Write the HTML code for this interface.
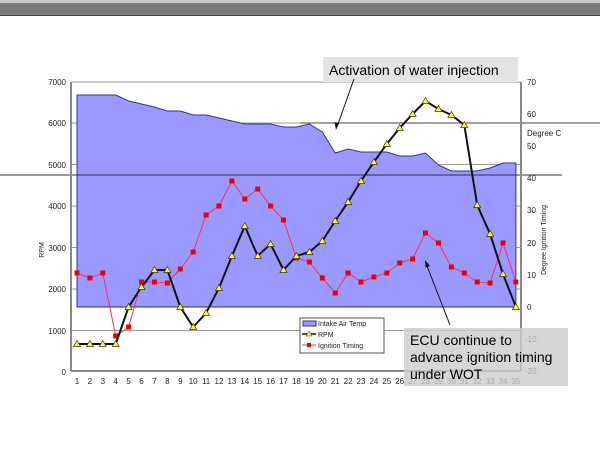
<!DOCTYPE html>
<html><head><style>
html,body{margin:0;padding:0;background:#fff;width:600px;height:450px;overflow:hidden}
svg text{font-family:"Liberation Sans",sans-serif}
</style></head><body>
<svg width="600" height="450" xmlns="http://www.w3.org/2000/svg">
<rect x="0" y="0" width="600" height="3" fill="#c8c8c8"/>
<rect x="0" y="3" width="600" height="13" fill="#7a7a7a"/>
<rect x="0" y="15" width="600" height="1" fill="#444"/>
<g stroke="#999" stroke-width="1">
<line x1="71" y1="82" x2="521" y2="82"/>
<line x1="71" y1="123" x2="521" y2="123"/>
<line x1="71" y1="164.5" x2="521" y2="164.5"/>
<line x1="71" y1="206" x2="521" y2="206"/>
<line x1="71" y1="247.5" x2="521" y2="247.5"/>
<line x1="71" y1="289" x2="521" y2="289"/>
<line x1="71" y1="330.5" x2="521" y2="330.5"/>
</g>
<polygon fill="#9999ff" stroke="#333399" stroke-width="1" points="77,307 77,95 89.9,95 102.8,95 115.7,95 128.6,101 141.5,104 154.5,107 167.4,111 180.3,111 193.2,115 206.1,115 219,118 231.9,121 244.8,124 257.7,124 270.6,124 283.5,127 296.4,127 309.4,124 322.3,132 335.2,153 348.1,149 361,152 373.9,152 386.8,152 399.7,156 412.6,156 425.5,153 438.4,165 451.4,171 464.3,171 477.2,171 490.1,168 503,163 515.9,163 515.9,307"/>
<line x1="77" y1="307" x2="516" y2="307" stroke="#333" stroke-width="1"/>
<line x1="0" y1="175" x2="562" y2="175" stroke="#333" stroke-width="1"/>
<line x1="300" y1="123" x2="600" y2="123" stroke="#444" stroke-width="1"/>
<line x1="71" y1="82" x2="71" y2="371" stroke="#888" stroke-width="2"/>
<line x1="521" y1="82" x2="521" y2="371" stroke="#888" stroke-width="2"/>
<line x1="71" y1="371" x2="521" y2="371" stroke="#888" stroke-width="2"/>
<g font-size="8" fill="#222" text-anchor="end">
<text x="66" y="85">7000</text><text x="66" y="126">6000</text><text x="66" y="168">5000</text><text x="66" y="209">4000</text><text x="66" y="251">3000</text><text x="66" y="292">2000</text><text x="66" y="334">1000</text><text x="66" y="375">0</text>
</g>
<g font-size="8" fill="#222">
<text x="527" y="85">70</text><text x="527" y="117">60</text><text x="527" y="149">50</text><text x="527" y="181">40</text><text x="527" y="213">30</text><text x="527" y="246">20</text><text x="527" y="278">10</text><text x="527" y="310">0</text><text x="525" y="342">-10</text><text x="525" y="374">-20</text>
<text x="527" y="136">Degree C</text>
</g>
<text font-size="7" fill="#222" transform="translate(44,250) rotate(-90)" text-anchor="middle">RPM</text>
<text font-size="7" fill="#222" transform="translate(546,240) rotate(-90)" text-anchor="middle">Degree Ignition Timing</text>
<g font-size="8" fill="#222" text-anchor="middle">
<text x="77" y="384">1</text><text x="89.9" y="384">2</text><text x="102.8" y="384">3</text><text x="115.7" y="384">4</text><text x="128.6" y="384">5</text><text x="141.5" y="384">6</text><text x="154.5" y="384">7</text><text x="167.4" y="384">8</text><text x="180.3" y="384">9</text><text x="193.2" y="384">10</text><text x="206.1" y="384">11</text><text x="219" y="384">12</text><text x="231.9" y="384">13</text><text x="244.8" y="384">14</text><text x="257.7" y="384">15</text><text x="270.6" y="384">16</text><text x="283.5" y="384">17</text><text x="296.4" y="384">18</text><text x="309.4" y="384">19</text><text x="322.3" y="384">20</text><text x="335.2" y="384">21</text><text x="348.1" y="384">22</text><text x="361" y="384">23</text><text x="373.9" y="384">24</text><text x="386.8" y="384">25</text><text x="399.7" y="384">26</text><text x="412.6" y="384">27</text><text x="425.5" y="384">28</text><text x="438.4" y="384">29</text><text x="451.4" y="384">30</text><text x="464.3" y="384">31</text><text x="477.2" y="384">32</text><text x="490.1" y="384">33</text><text x="503" y="384">34</text><text x="515.9" y="384">35</text>
</g>
<polyline fill="none" stroke="#ff3355" stroke-width="1" points="77,273 89.9,278 102.8,273 115.7,336 128.6,327 141.5,282 154.5,282 167.4,283 180.3,269 193.2,252 206.1,215 219,206 231.9,181 244.8,199 257.7,189 270.6,206 283.5,220 296.4,258 309.4,262 322.3,278 335.2,293 348.1,273 361,282 373.9,277 386.8,273 399.7,263 412.6,259 425.5,233 438.4,243 451.4,267 464.3,273 477.2,282 490.1,283 503,243 515.9,282"/>
<g fill="#ee0000">
<rect x="74.5" y="270.5" width="5" height="5"/><rect x="87.4" y="275.5" width="5" height="5"/><rect x="100.3" y="270.5" width="5" height="5"/><rect x="113.2" y="333.5" width="5" height="5"/><rect x="126.1" y="324.5" width="5" height="5"/><rect x="139" y="279.5" width="5" height="5"/><rect x="152" y="279.5" width="5" height="5"/><rect x="164.9" y="280.5" width="5" height="5"/><rect x="177.8" y="266.5" width="5" height="5"/><rect x="190.7" y="249.5" width="5" height="5"/><rect x="203.6" y="212.5" width="5" height="5"/><rect x="216.5" y="203.5" width="5" height="5"/><rect x="229.4" y="178.5" width="5" height="5"/><rect x="242.3" y="196.5" width="5" height="5"/><rect x="255.2" y="186.5" width="5" height="5"/><rect x="268.1" y="203.5" width="5" height="5"/><rect x="281" y="217.5" width="5" height="5"/><rect x="293.9" y="255.5" width="5" height="5"/><rect x="306.9" y="259.5" width="5" height="5"/><rect x="319.8" y="275.5" width="5" height="5"/><rect x="332.7" y="290.5" width="5" height="5"/><rect x="345.6" y="270.5" width="5" height="5"/><rect x="358.5" y="279.5" width="5" height="5"/><rect x="371.4" y="274.5" width="5" height="5"/><rect x="384.3" y="270.5" width="5" height="5"/><rect x="397.2" y="260.5" width="5" height="5"/><rect x="410.1" y="256.5" width="5" height="5"/><rect x="423" y="230.5" width="5" height="5"/><rect x="435.9" y="240.5" width="5" height="5"/><rect x="448.9" y="264.5" width="5" height="5"/><rect x="461.8" y="270.5" width="5" height="5"/><rect x="474.7" y="279.5" width="5" height="5"/><rect x="487.6" y="280.5" width="5" height="5"/><rect x="500.5" y="240.5" width="5" height="5"/><rect x="513.4" y="279.5" width="5" height="5"/>
</g>
<polyline fill="none" stroke="#111" stroke-width="2" points="77,344 89.9,344 102.8,344 115.7,344 128.6,307 141.5,287 154.5,270 167.4,270 180.3,307 193.2,327 206.1,313 219,288 231.9,256 244.8,226 257.7,256 270.6,244 283.5,270 296.4,256 309.4,252 322.3,241 335.2,221 348.1,202 361,181 373.9,162 386.8,144 399.7,128 412.6,114 425.5,101 438.4,109 451.4,115 464.3,125 477.2,205 490.1,234 503,274 515.9,307"/>
<g fill="#ffff00" stroke="#333" stroke-width="0.7">
<path d="M77,340.5l3.5,6h-7z"/><path d="M89.9,340.5l3.5,6h-7z"/><path d="M102.8,340.5l3.5,6h-7z"/><path d="M115.7,340.5l3.5,6h-7z"/><path d="M128.6,303.5l3.5,6h-7z"/><path d="M141.5,283.5l3.5,6h-7z"/><path d="M154.5,266.5l3.5,6h-7z"/><path d="M167.4,266.5l3.5,6h-7z"/><path d="M180.3,303.5l3.5,6h-7z"/><path d="M193.2,323.5l3.5,6h-7z"/><path d="M206.1,309.5l3.5,6h-7z"/><path d="M219,284.5l3.5,6h-7z"/><path d="M231.9,252.5l3.5,6h-7z"/><path d="M244.8,222.5l3.5,6h-7z"/><path d="M257.7,252.5l3.5,6h-7z"/><path d="M270.6,240.5l3.5,6h-7z"/><path d="M283.5,266.5l3.5,6h-7z"/><path d="M296.4,252.5l3.5,6h-7z"/><path d="M309.4,248.5l3.5,6h-7z"/><path d="M322.3,237.5l3.5,6h-7z"/><path d="M335.2,217.5l3.5,6h-7z"/><path d="M348.1,198.5l3.5,6h-7z"/><path d="M361,177.5l3.5,6h-7z"/><path d="M373.9,158.5l3.5,6h-7z"/><path d="M386.8,140.5l3.5,6h-7z"/><path d="M399.7,124.5l3.5,6h-7z"/><path d="M412.6,110.5l3.5,6h-7z"/><path d="M425.5,97.5l3.5,6h-7z"/><path d="M438.4,105.5l3.5,6h-7z"/><path d="M451.4,111.5l3.5,6h-7z"/><path d="M464.3,121.5l3.5,6h-7z"/><path d="M477.2,201.5l3.5,6h-7z"/><path d="M490.1,230.5l3.5,6h-7z"/><path d="M503,270.5l3.5,6h-7z"/><path d="M515.9,303.5l3.5,6h-7z"/>
</g>
<rect x="300" y="318" width="84" height="35" fill="#fff" stroke="#555" stroke-width="1"/>
<rect x="303" y="321" width="13" height="5" fill="#9999ff" stroke="#333399"/>
<text x="318" y="326" font-size="7" fill="#222">Intake Air Temp</text>
<line x1="302" y1="334" x2="316" y2="334" stroke="#111" stroke-width="1.5"/>
<path d="M309,331l3,5h-6z" fill="#ff0" stroke="#333" stroke-width="0.5"/>
<text x="318" y="337" font-size="7" fill="#222">RPM</text>
<line x1="302" y1="345" x2="316" y2="345" stroke="#ff3355"/>
<rect x="307" y="343" width="4" height="4" fill="#e00"/>
<text x="318" y="348" font-size="7" fill="#222">Ignition Timing</text>
<rect x="404" y="328" width="164" height="58" fill="#cccccc" fill-opacity="0.8"/>
<g font-size="14" fill="#000">
<text x="410" y="345">ECU continue to</text>
<text x="410" y="362">advance ignition timing</text>
<text x="410" y="379">under WOT</text>
</g>
<rect x="323" y="57" width="195" height="25" fill="#e3e3e3"/>
<text x="329" y="75" font-size="14" fill="#000">Activation of water injection</text>
<line x1="354" y1="79" x2="338" y2="124" stroke="#111" stroke-width="1"/>
<path d="M336,130l-1.5,-8l4.5,1.5z" fill="#111"/>
<line x1="450" y1="325" x2="427" y2="266" stroke="#111" stroke-width="1"/>
<path d="M425,260l5,6l-4.5,1.5z" fill="#111"/>
</svg>
</body></html>
